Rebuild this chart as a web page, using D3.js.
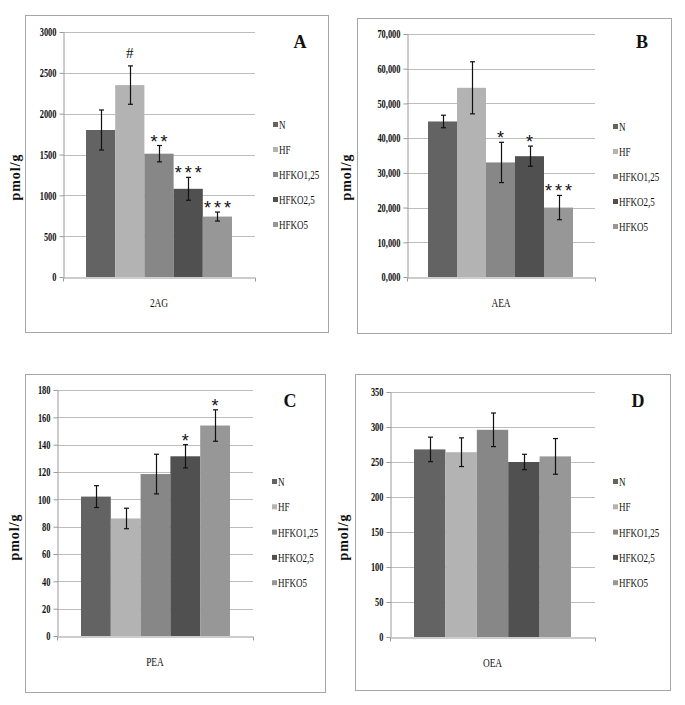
<!DOCTYPE html>
<html><head><meta charset="utf-8">
<script src="https://cdn.jsdelivr.net/npm/d3@7"></script>
<style>body{margin:0;background:#fff}svg{display:block}</style>
</head><body>
<svg id="chart" width="685" height="705"></svg>
<script>
// ---------- data ----------
const groups = ["N", "HF", "HFKO1,25", "HFKO2,5", "HFKO5"];
const groupColors = ["#636363", "#b3b3b3", "#878787", "#505050", "#979797"];

const aCategory = "2AG";
const aValues = [1800, 2350, 1510, 1080, 740];
const aErrors = [245, 235, 100, 140, 55];
const aMarks = ["", "#", "**", "***", "***"];
const aTicks = [0, 500, 1000, 1500, 2000, 2500, 3000];
const aTickLabels = ["0", "500", "1000", "1500", "2000", "2500", "3000"];

const bCategory = "AEA";
const bValues = [44800, 54500, 33000, 34800, 20000];
const bErrors = [1800, 7500, 5800, 2900, 3500];
const bMarks = ["", "", "*", "*", "***"];
const bTicks = [0, 10000, 20000, 30000, 40000, 50000, 60000, 70000];
const bTickLabels = ["0,000", "10,000", "20,000", "30,000", "40,000", "50,000", "60,000", "70,000"];

const cCategory = "PEA";
const cValues = [102, 86, 118.5, 131.5, 154];
const cErrors = [8, 7.5, 14.5, 8.5, 11.5];
const cMarks = ["", "", "", "*", "*"];
const cTicks = [0, 20, 40, 60, 80, 100, 120, 140, 160, 180];
const cTickLabels = ["0", "20", "40", "60", "80", "100", "120", "140", "160", "180"];

const dCategory = "OEA";
const dValues = [268, 264, 296, 250, 258];
const dErrors = [17.5, 20.5, 24, 11, 25.5];
const dMarks = ["", "", "", "", ""];
const dTicks = [0, 50, 100, 150, 200, 250, 300, 350];
const dTickLabels = ["0", "50", "100", "150", "200", "250", "300", "350"];

const yLabel = "pmol/g";
const panelLetters = ["A", "B", "C", "D"];

// ---------- layout (positions only) ----------
const layouts = [
  {box:[25,15,328,332], x0:63, x1:255, yTop:32, yBot:277, bx0:86, bx1:232, legX:273, legY:125, legStep:25, letter:[300,48], ylab:[15,177]},
  {box:[357,18,671,333], x0:407, x1:595, yTop:34, yBot:277, bx0:428, bx1:573, legX:613, legY:127, legStep:25, letter:[642,48], ylab:[346,177]},
  {box:[25,374,325,692], x0:57, x1:253, yTop:390, yBot:636, bx0:81, bx1:230, legX:272, legY:482, legStep:25.3, letter:[290,407], ylab:[14,537]},
  {box:[355,374,670,690], x0:390, x1:595, yTop:392, yBot:637, bx0:414, bx1:571, legX:613, legY:482, legStep:25.3, letter:[638,407], ylab:[343,537]}
];

const panels = [
  {cat:aCategory, values:aValues, errors:aErrors, marks:aMarks, ticks:aTicks, labels:aTickLabels},
  {cat:bCategory, values:bValues, errors:bErrors, marks:bMarks, ticks:bTicks, labels:bTickLabels},
  {cat:cCategory, values:cValues, errors:cErrors, marks:cMarks, ticks:cTicks, labels:cTickLabels},
  {cat:dCategory, values:dValues, errors:dErrors, marks:dMarks, ticks:dTicks, labels:dTickLabels}
];

const svg = d3.select("#chart");
const SERIF = "'Liberation Serif','Times New Roman',serif";
const SX = 0.72; // condensed look of the original text

function condensedText(g, x, y, txt, opts) {
  return g.append("text")
    .attr("transform", `translate(${x},${y}) scale(${opts.sx || SX},1)`)
    .attr("font-family", SERIF)
    .attr("font-size", opts.size || 12)
    .attr("font-weight", opts.weight || "normal")
    .attr("fill", opts.fill || "#111")
    .attr("text-anchor", opts.anchor || "start")
    .text(txt);
}

panels.forEach((p, pi) => {
  const L = layouts[pi];
  const g = svg.append("g");

  // frame
  g.append("rect")
    .attr("x", L.box[0] + 0.5).attr("y", L.box[1] + 0.5)
    .attr("width", L.box[2] - L.box[0]).attr("height", L.box[3] - L.box[1])
    .attr("fill", "#fff").attr("stroke", "#a6a6a6").attr("stroke-width", 1);

  const y = d3.scaleLinear()
    .domain([p.ticks[0], p.ticks[p.ticks.length - 1]])
    .range([L.yBot, L.yTop]);

  const xCat = d3.scaleBand().domain([p.cat]).range([L.x0, L.x1]);
  const xBar = d3.scaleBand().domain(groups).range([L.bx0, L.bx1]).paddingInner(0);

  // gridlines
  g.append("g").selectAll("line")
    .data(p.ticks.slice(1))
    .join("line")
    .attr("x1", L.x0).attr("x2", L.x1)
    .attr("y1", d => Math.round(y(d)) + 0.5).attr("y2", d => Math.round(y(d)) + 0.5)
    .attr("stroke", "#bdbdbd").attr("stroke-width", 1);

  // bars
  g.append("g").selectAll("rect")
    .data(groups)
    .join("rect")
    .attr("x", d => xBar(d))
    .attr("width", xBar.bandwidth())
    .attr("y", (d, i) => y(p.values[i]))
    .attr("height", (d, i) => y(0) - y(p.values[i]))
    .attr("fill", (d, i) => groupColors[i]);

  // error bars
  const eb = g.append("g").attr("stroke", "#111").attr("stroke-width", 1.2);
  groups.forEach((gr, i) => {
    const cx = Math.round(xBar(gr) + xBar.bandwidth() / 2) + 0.5;
    const lo = y(p.values[i] - p.errors[i]);
    const hi = y(p.values[i] + p.errors[i]);
    eb.append("line").attr("x1", cx).attr("x2", cx).attr("y1", lo).attr("y2", hi);
    eb.append("line").attr("x1", cx - 2.5).attr("x2", cx + 2.5).attr("y1", lo).attr("y2", lo);
    eb.append("line").attr("x1", cx - 2.5).attr("x2", cx + 2.5).attr("y1", hi).attr("y2", hi);
  });

  // significance marks
  groups.forEach((gr, i) => {
    const m = p.marks[i];
    if (!m) return;
    const cx = xBar(gr) + xBar.bandwidth() / 2;
    const top = y(p.values[i] + p.errors[i]);
    if (m === "#") {
      g.append("text").attr("x", cx).attr("y", top - 8)
        .attr("text-anchor", "middle").attr("font-family", SERIF)
        .attr("font-size", 15).attr("fill", "#111").text(m);
    } else {
      g.append("text").attr("x", cx + 1.5).attr("y", top + 2)
        .attr("text-anchor", "middle").attr("font-family", "'Liberation Sans',Arial,sans-serif")
        .attr("font-size", 18).attr("letter-spacing", 3).attr("fill", "#111").text(m);
    }
  });

  // y axis
  const ya = g.append("g").attr("transform", `translate(${L.x0 + 0.5},0)`)
    .call(d3.axisLeft(y).tickValues(p.ticks).tickFormat((d, i) => p.labels[i])
      .tickSize(4).tickSizeOuter(0).tickPadding(3));
  ya.select(".domain").attr("stroke", "#9a9a9a");
  ya.selectAll(".tick line").attr("stroke", "#9a9a9a");
  ya.selectAll(".tick text")
    .attr("x", -7 / 0.7).attr("transform", "scale(0.7,1)")
    .attr("font-family", SERIF).attr("font-size", 12).attr("font-weight", "bold")
    .attr("fill", "#111");

  // x axis
  const xa = g.append("g").attr("transform", `translate(0,${L.yBot + 0.5})`)
    .call(d3.axisBottom(xCat).tickSize(0).tickSizeOuter(4).tickPadding(20));
  xa.select(".domain").attr("stroke", "#9a9a9a");
  xa.selectAll(".tick text")
    .attr("transform", `scale(${SX},1)`).attr("x", 0)
    .attr("font-family", SERIF).attr("font-size", 13).attr("fill", "#111");

  // legend
  groups.forEach((gr, i) => {
    const ly = L.legY + i * L.legStep;
    g.append("rect").attr("x", L.legX).attr("y", ly - 3).attr("width", 5).attr("height", 5)
      .attr("fill", groupColors[i]);
    condensedText(g, L.legX + 6, ly + 4, gr, {size: 12.5});
  });

  // panel letter
  g.append("text").attr("x", L.letter[0]).attr("y", L.letter[1])
    .attr("text-anchor", "middle").attr("font-family", SERIF)
    .attr("font-size", 18).attr("font-weight", "bold").attr("fill", "#111")
    .text(panelLetters[pi]);

  // y label
  g.append("text")
    .attr("transform", `translate(${L.ylab[0] + 5},${L.ylab[1]}) rotate(-90)`)
    .attr("text-anchor", "middle").attr("font-family", SERIF)
    .attr("font-size", 14).attr("font-weight", "bold").attr("letter-spacing", 1)
    .attr("fill", "#111").text(yLabel);
});
</script>
</body></html>
